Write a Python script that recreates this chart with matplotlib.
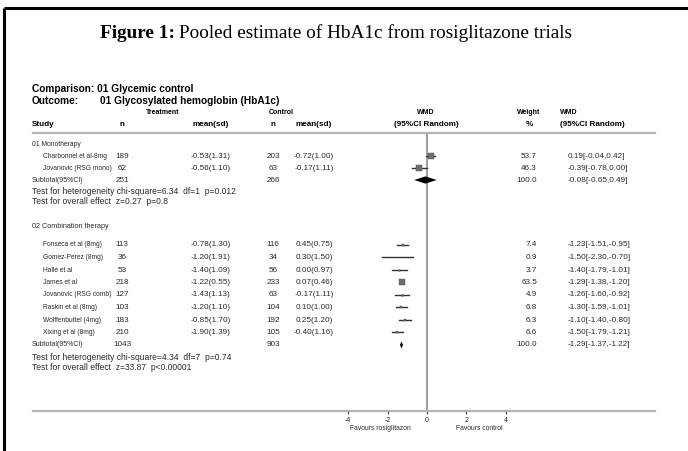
import matplotlib
matplotlib.use('Agg')
import matplotlib.pyplot as plt
from matplotlib import font_manager
import numpy as np

# ---- data ----
mono_names = ['Charbonnel et al-8mg', 'Jovanovic (RSG mono)']
mono_n_t = [189, 62]
mono_mean_t = [-0.53, -0.56]
mono_sd_t = [1.31, 1.10]
mono_n_c = [203, 63]
mono_mean_c = [-0.72, -0.17]
mono_sd_c = [1.00, 1.11]
mono_weight = [53.7, 46.3]
mono_wmd = [0.19, -0.39]
mono_lo = [-0.04, -0.78]
mono_hi = [0.42, 0.00]
mono_total = [251, 266]
mono_pool = [-0.08, -0.65, 0.49]

comb_names = ['Fonseca et al (8mg)', 'Gomez-Perez (8mg)', 'Hallé et al', 'James et al',
              'Jovanovic (RSG comb)', 'Raskin et al (8mg)', 'Wolffenbuttel (4mg)', 'Xixing et al (8mg)']
comb_n_t = [113, 36, 53, 218, 127, 103, 183, 210]
comb_mean_t = [-0.78, -1.20, -1.40, -1.22, -1.43, -1.20, -0.85, -1.90]
comb_sd_t = [1.30, 1.91, 1.09, 0.55, 1.13, 1.10, 1.70, 1.39]
comb_n_c = [116, 34, 56, 233, 63, 104, 192, 105]
comb_mean_c = [0.45, 0.30, 0.00, 0.07, -0.17, 0.10, 0.25, -0.40]
comb_sd_c = [0.75, 1.50, 0.97, 0.46, 1.11, 1.00, 1.20, 1.16]
comb_weight = [7.4, 0.9, 3.7, 63.5, 4.9, 6.8, 6.3, 6.6]
comb_wmd = [-1.23, -1.50, -1.40, -1.29, -1.26, -1.30, -1.10, -1.50]
comb_lo = [-1.51, -2.30, -1.79, -1.38, -1.60, -1.59, -1.40, -1.79]
comb_hi = [-0.95, -0.70, -1.01, -1.20, -0.92, -1.01, -0.80, -1.21]
comb_total = [1043, 903]
comb_pool = [-1.29, -1.37, -1.22]

ticks = [-4, -2, 0, 2, 4]

# ---- fonts ----
names = set(f.name for f in font_manager.fontManager.ttflist)
if 'Liberation Sans Narrow' in names:
    narrow, nsz = 'Liberation Sans Narrow', 8.6
else:
    narrow, nsz = 'Liberation Sans', 7.3
sans = 'Liberation Sans'
serif = 'Liberation Serif'
nmsz = 4.8   # study names
numsz = 5.9  # numbers in rows
tsz = 6.15   # test lines
txt = '#2a2a2a'

W, H = 688, 451
fig = plt.figure(figsize=(W / 100, H / 100), dpi=100, facecolor='w')

# pixel overlay for the table
tab = fig.add_axes([0, 0, 1, 1])
tab.set_xlim(0, W)
tab.set_ylim(H, 0)
tab.axis('off')

# frame (left + top)
tab.plot([4, 4], [8, H], color='k', lw=2.2, solid_capstyle='butt')
tab.plot([4, W], [8, 8], color='k', lw=2.2, solid_capstyle='butt')

# title
t1 = tab.text(100, 33, 'Figure 1:', fontsize=13.9, family=serif, weight='bold', va='center')
fig.canvas.draw()
bb = t1.get_window_extent()
tab.text(100 + bb.width + 4, 33, 'Pooled estimate of HbA1c from rosiglitazone trials',
         fontsize=13.9, family=serif, va='center')

tab.text(32, 89, 'Comparison: 01 Glycemic control', fontsize=nsz, family=narrow,
         weight='bold', va='center')
tab.text(32, 101, 'Outcome:', fontsize=nsz, family=narrow, weight='bold', va='center')
tab.text(100, 101, '01 Glycosylated hemoglobin (HbA1c)', fontsize=nsz, family=narrow,
         weight='bold', va='center')

# column headers
col_n_t, col_m_t, col_n_c, col_m_c = 122, 211, 273, 314
col_w, col_ci = 537, 568
hd = dict(fontsize=5.0, family=sans, weight='bold', va='center')
tab.text(163, 113, 'Treatment', ha='center', **hd)
tab.text(281, 113, 'Control', ha='center', **hd)
tab.text(426, 113, 'WMD', ha='center', **hd)
tab.text(540, 113, 'Weight', ha='right', **hd)
tab.text(560, 113, 'WMD', ha='left', **hd)
hd['fontsize'] = 5.9
tab.text(32, 124, 'Study', ha='left', **hd)
tab.text(col_n_t, 124, 'n', ha='center', **hd)
tab.text(col_m_t, 124, 'mean(sd)', ha='center', **hd)
tab.text(col_n_c, 124, 'n', ha='center', **hd)
tab.text(col_m_c, 124, 'mean(sd)', ha='center', **hd)
tab.text(426, 124, '(95%CI Random)', ha='center', **hd)
tab.text(533, 124, '%', ha='right', **hd)
tab.text(560, 124, '(95%CI Random)', ha='left', **hd)

# forest axes: 0 at x=427px, 19.7 px per unit, spans 33..655 px
ppu = 19.7
x0 = 427
ax = fig.add_axes([33 / W, (H - 411) / H, (655 - 33) / W, (411 - 133) / H])
ax.set_xlim((33 - x0) / ppu, (655 - x0) / ppu)
ax.set_ylim(411, 133)
ax.patch.set_alpha(0)
for s in ['left', 'right']:
    ax.spines[s].set_visible(False)
for s in ['top', 'bottom']:
    ax.spines[s].set_color('#b4b4b4')
    ax.spines[s].set_linewidth(1.6)
ax.set_yticks([])
ax.set_xticks(ticks)
ax.set_xticklabels([str(t) for t in ticks])
ax.tick_params(axis='x', length=2.5, width=0.8, color='#333333', pad=1.5,
               labelsize=5, labelcolor=txt)
for lab in ax.get_xticklabels():
    lab.set_family(sans)
ax.axvline(0, color='#8c8c8c', lw=1.2, zorder=1)

tab.text(380, 429, 'Favours rosiglitazon', ha='center', va='center', fontsize=4.9,
         family=sans, color=txt)
tab.text(479, 429, 'Favours control', ha='center', va='center', fontsize=4.9,
         family=sans, color=txt)

rt = dict(fontsize=numsz, family=sans, color=txt, va='center')


def study_rows(ys, nm, nt, mt, st, nc, mc, sc, wt, wmd, lo, hi):
    for i, y in enumerate(ys):
        tab.text(43, y, nm[i], ha='left', **dict(rt, fontsize=nmsz))
        tab.text(col_n_t, y, str(nt[i]), ha='center', **rt)
        tab.text(col_m_t, y, '%.2f(%.2f)' % (mt[i], st[i]), ha='center', **rt)
        tab.text(col_n_c, y, str(nc[i]), ha='center', **rt)
        tab.text(col_m_c, y, '%.2f(%.2f)' % (mc[i], sc[i]), ha='center', **rt)
        tab.text(col_w, y, '%.1f' % wt[i], ha='right', **rt)
        tab.text(col_ci, y, '%.2f[%.2f,%.2f]' % (wmd[i], lo[i], hi[i]), ha='left', **rt)
        ax.plot([lo[i], hi[i]], [y, y], color='#333333', lw=1.0, zorder=2)
        side = 0.8 * np.sqrt(wt[i])
        ax.plot(wmd[i], y, marker='s', ms=side * 0.72, color='#6e6e6e',
                mec='#4a4a4a', mew=0.3, zorder=3)


def subtotal_row(y, tot, pool, het, overall, yh, yo):
    tab.text(32, y, 'Subtotal(95%CI)', ha='left', **dict(rt, fontsize=5.0))
    tab.text(col_n_t, y, str(tot[0]), ha='center', **rt)
    tab.text(col_n_c, y, str(tot[1]), ha='center', **rt)
    tab.text(col_w, y, '100.0', ha='right', **rt)
    tab.text(col_ci, y, '%.2f[%.2f,%.2f]' % tuple(pool), ha='left', **rt)
    hh = 3.6
    ax.fill([pool[1], pool[0], pool[2], pool[0]], [y, y - hh, y, y + hh],
            color='k', zorder=3, lw=0)
    tab.text(32, yh, het, ha='left', **dict(rt, fontsize=tsz))
    tab.text(32, yo, overall, ha='left', **dict(rt, fontsize=tsz))


# monotherapy block
tab.text(32, 145, '01 Monotherapy', ha='left', **dict(rt, fontsize=4.9))
study_rows([156, 168], mono_names, mono_n_t, mono_mean_t, mono_sd_t, mono_n_c,
           mono_mean_c, mono_sd_c, mono_weight, mono_wmd, mono_lo, mono_hi)
subtotal_row(180, mono_total, mono_pool,
             'Test for heterogeneity chi-square=6.34  df=1  p=0.012',
             'Test for overall effect  z=0.27  p=0.8', 191, 201)

# combination block
tab.text(32, 226, '02 Combination therapy', ha='left', **dict(rt, fontsize=5.2))
comb_y = [245, 257.5, 270, 282.5, 295, 307.5, 320, 332.5]
study_rows(comb_y, comb_names, comb_n_t, comb_mean_t, comb_sd_t, comb_n_c,
           comb_mean_c, comb_sd_c, comb_weight, comb_wmd, comb_lo, comb_hi)
subtotal_row(345, comb_total, comb_pool,
             'Test for heterogeneity chi-square=4.34  df=7  p=0.74',
             'Test for overall effect  z=33.87  p<0.00001', 357, 368)

fig.savefig('out.png', dpi=100, facecolor='w')
